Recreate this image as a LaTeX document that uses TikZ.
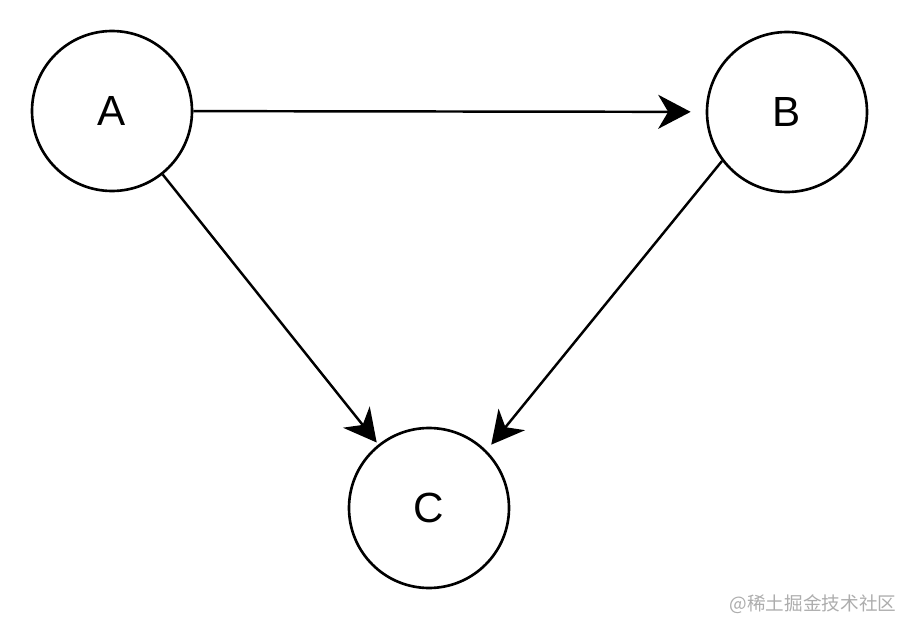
\documentclass[tikz,border=0pt]{standalone}
\usepackage{fontspec}
\setmainfont{Liberation Sans}
\newfontfamily\cjk{Noto Sans CJK SC}
\usepackage{tikz}
\usetikzlibrary{positioning, calc, arrows.meta}

\begin{document}
\begin{tikzpicture}[
    vertex/.style={circle, draw=black, line width=1.5pt, fill=white,
        minimum size=3.2cm, inner sep=0pt, font=\fontsize{24}{28}\selectfont},
    edge/.style={-{Stealth[length=6.5mm, width=6.8mm, inset=2mm]}, line width=1.4pt}
]
    % Canvas
    \useasboundingbox[fill=white] (0,0) rectangle (18,-12.44);

    % Nodes
    \node[vertex] (A) at (2.24,-2.22) {A};
    \node[vertex] (B) at (15.74,-2.24) {B};
    \node[vertex] (C) at (8.58,-10.16) {C};

    % Edges
    \draw[edge, shorten >=0.3cm] (A) -- (B);
    \draw[edge, shorten >=0.05cm] (A) -- (C);
    \draw[edge, shorten >=0.15cm] (B.217) -- (C.north east);

    % Watermark
    \node[text=black!32, font=\cjk\fontsize{10.6}{12}\selectfont] (mark) at (16.26,-12.08) {@稀土掘金技术社区};
\end{tikzpicture}
\end{document}
